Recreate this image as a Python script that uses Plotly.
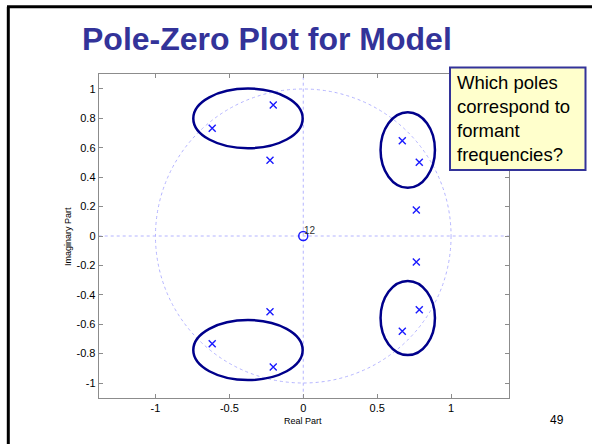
import plotly.graph_objects as go

# ---- data ----
pole_real = [-0.616, -0.203, -0.225, 0.670, 0.785, 0.765,
             -0.616, -0.203, -0.225, 0.670, 0.785, 0.765]
pole_imag = [0.733, 0.891, 0.515, 0.648, 0.501, 0.177,
             -0.733, -0.891, -0.515, -0.648, -0.501, -0.177]
zero_real = [0.0]
zero_imag = [0.0]
zero_mult = ["12"]

# ellipses grouping formant poles: centre x, centre y, half-width, half-height
ell_cx = [-0.374, -0.374, 0.707, 0.707]
ell_cy = [0.800, -0.776, 0.585, -0.558]
ell_rx = [0.370, 0.370, 0.184, 0.184]
ell_ry = [0.203, 0.204, 0.257, 0.252]

x_ticks = [-1, -0.5, 0, 0.5, 1]
x_tick_text = ["-1", "-0.5", "0", "0.5", "1"]
y_ticks = [1, 0.8, 0.6, 0.4, 0.2, 0, -0.2, -0.4, -0.6, -0.8, -1]
y_tick_text = ["1", "0.8", "0.6", "0.4", "0.2", "0", "-0.2", "-0.4", "-0.6", "-0.8", "-1"]

title_text = "Pole-Zero Plot for Model"
note_text = "Which poles<br>correspond to<br>formant<br>frequencies?"
page_no = "49"

W, H = 592, 444
X_RANGE = [-1.384, 1.392]
Y_RANGE = [-1.100, 1.102]

fig = go.Figure()

fig.add_trace(go.Scatter(
    x=pole_real, y=pole_imag, mode="markers",
    marker=dict(symbol="x-thin", size=7, line=dict(color="#1a1aff", width=1.4)),
    hoverinfo="skip", showlegend=False))
fig.add_trace(go.Scatter(
    x=zero_real, y=zero_imag, mode="markers",
    marker=dict(symbol="circle-open", size=9, color="#1a1aff", line=dict(width=1.5)),
    hoverinfo="skip", showlegend=False))

shapes = []
# unit circle
shapes.append(dict(type="circle", xref="x", yref="y", x0=-1, x1=1, y0=-1, y1=1,
                   line=dict(color="#b4b4ff", width=1, dash="dot"), layer="below"))
# dotted axes
shapes.append(dict(type="line", xref="x", yref="y", x0=X_RANGE[0], x1=X_RANGE[1], y0=0, y1=0,
                   line=dict(color="#b4b4ff", width=1, dash="dot"), layer="below"))
shapes.append(dict(type="line", xref="x", yref="y", x0=0, x1=0, y0=Y_RANGE[0], y1=Y_RANGE[1],
                   line=dict(color="#b4b4ff", width=1, dash="dot"), layer="below"))
for cx, cy, rx, ry in zip(ell_cx, ell_cy, ell_rx, ell_ry):
    shapes.append(dict(type="circle", xref="x", yref="y", x0=cx - rx, x1=cx + rx,
                       y0=cy - ry, y1=cy + ry, line=dict(color="#00008b", width=2.5)))
# slide frame (left and top edges)
shapes.append(dict(type="line", xref="paper", yref="paper", x0=8.3 / W, x1=8.3 / W,
                   y0=0, y1=1 - 6.7 / H, line=dict(color="black", width=3)))
shapes.append(dict(type="line", xref="paper", yref="paper", x0=7 / W, x1=1,
                   y0=1 - 6.7 / H, y1=1 - 6.7 / H, line=dict(color="black", width=3)))
# note box
shapes.append(dict(type="rect", xref="paper", yref="paper", x0=450 / W, x1=585.5 / W,
                   y0=1 - 170 / H, y1=1 - 67.5 / H,
                   fillcolor="#ffffcc", line=dict(color="#333399", width=2)))

annotations = [
    dict(text=title_text, xref="paper", yref="paper", x=266.5 / W, y=1 - 39 / H,
         xanchor="center", yanchor="middle", showarrow=False,
         font=dict(family="Liberation Sans, Arial", size=32, color="#333399", weight="bold")),
    dict(text=note_text, xref="paper", yref="paper", x=455 / W, y=1 - 70 / H,
         xanchor="left", yanchor="top", align="left", showarrow=False,
         font=dict(family="Liberation Sans, Arial", size=18.5, color="black")),
    dict(text=zero_mult[0], xref="x", yref="y", x=zero_real[0], y=zero_imag[0],
         xshift=7, yshift=6, showarrow=False, xanchor="center", yanchor="middle",
         font=dict(family="Liberation Sans, Arial", size=10, color="#333333")),
    dict(text="Real Part", xref="paper", yref="paper", x=303 / W, y=1 - 421 / H,
         xanchor="center", yanchor="middle", showarrow=False,
         font=dict(family="Liberation Sans, Arial", size=9, color="black")),
    dict(text="Imaginary Part", xref="paper", yref="paper", x=68 / W, y=1 - 237 / H,
         xanchor="center", yanchor="middle", showarrow=False, textangle=-90,
         font=dict(family="Liberation Sans, Arial", size=9, color="black")),
    dict(text=page_no, xref="paper", yref="paper", x=556.5 / W, y=1 - 420 / H,
         xanchor="center", yanchor="middle", showarrow=False,
         font=dict(family="Liberation Sans, Arial", size=12, color="black")),
]

axis_common = dict(showgrid=False, zeroline=False, showline=True, mirror="ticks",
                   linecolor="#8c8c8c", linewidth=1, ticks="inside", ticklen=4,
                   tickcolor="#8c8c8c", tickfont=dict(family="Liberation Sans, Arial",
                                                      size=11, color="black"))

fig.update_layout(
    width=W, height=H, autosize=False,
    margin=dict(l=0, r=0, t=0, b=0),
    paper_bgcolor="white", plot_bgcolor="white",
    xaxis=dict(range=X_RANGE, domain=[98.7 / W, 509 / W], tickvals=x_ticks,
               ticktext=x_tick_text, **axis_common),
    yaxis=dict(range=Y_RANGE, domain=[1 - 397.7 / H, 1 - 74 / H], tickvals=y_ticks,
               ticktext=y_tick_text, **axis_common),
    shapes=shapes, annotations=annotations, showlegend=False,
)

fig.write_html("out.html")
